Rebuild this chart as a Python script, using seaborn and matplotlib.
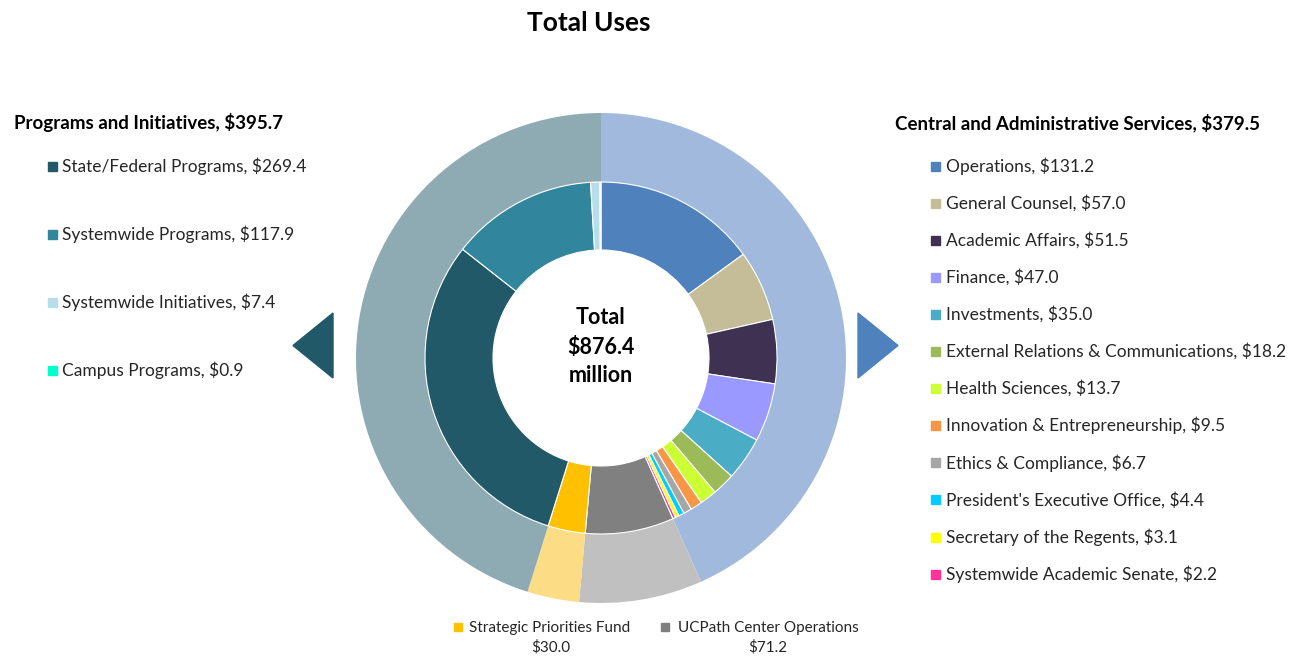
import matplotlib
matplotlib.use("Agg")
import matplotlib.pyplot as plt
import seaborn as sns
from matplotlib.patches import Rectangle, Polygon

sns.set_theme(style="white")
plt.rcParams['font.family'] = ['Lato', 'DejaVu Sans']

# ---- data ----
outer_labels = ["Central and Administrative Services", "UCPath Center Operations",
                "Strategic Priorities Fund", "Programs and Initiatives"]
outer_values = [379.5, 71.2, 30.0, 395.7]
outer_colors = ["#a1b9dc", "#c0c0c0", "#fcdc85", "#8eaab3"]

central_labels = ["Operations", "General Counsel", "Academic Affairs", "Finance", "Investments",
                  "External Relations & Communications", "Health Sciences",
                  "Innovation & Entrepreneurship", "Ethics & Compliance",
                  "President's Executive Office", "Secretary of the Regents",
                  "Systemwide Academic Senate"]
central_values = [131.2, 57.0, 51.5, 47.0, 35.0, 18.2, 13.7, 9.5, 6.7, 4.4, 3.1, 2.2]
central_colors = ["#4f81bd", "#c4bd97", "#3f3151", "#9999ff", "#4bacc6", "#9bbb59",
                  "#ccff33", "#f79646", "#a6a6a6", "#00ccff", "#ffff00", "#ff3399"]

mid_labels = ["UCPath Center Operations", "Strategic Priorities Fund"]
mid_values = [71.2, 30.0]
mid_colors = ["#808080", "#ffc000"]

prog_labels = ["State/Federal Programs", "Systemwide Programs", "Systemwide Initiatives",
               "Campus Programs"]
prog_values = [269.4, 117.9, 7.4, 0.9]
prog_colors = ["#215968", "#31859c", "#b7dee8", "#00ffcc"]

total = 876.4
center_lines = ["Total", f"${total:.1f}", "million"]

# ---- figure ----
W, H = 1298, 656
fig = plt.figure(figsize=(W / 100, H / 100), dpi=100)
fig.patch.set_facecolor("white")

cx, cy, R = 601, 358, 245
ax = fig.add_axes([(cx - R) / W, (H - cy - R) / H, 2 * R / W, 2 * R / H])
ax.set_aspect("equal")
ax.axis("off")

r_mid = 176 / R
r_hole = 108 / R

ax.pie(outer_values, radius=1.0, colors=outer_colors, startangle=90, counterclock=False,
       wedgeprops=dict(width=1.0 - r_mid, linewidth=0))
inner_values = central_values + mid_values + prog_values
inner_colors = central_colors + mid_colors + prog_colors
ax.pie(inner_values, radius=r_mid, colors=inner_colors, startangle=90, counterclock=False,
       wedgeprops=dict(width=r_mid - r_hole, edgecolor="white", linewidth=0.8))
ax.set_xlim(-1, 1)
ax.set_ylim(-1, 1)

# overlay in pixel coordinates
ov = fig.add_axes([0, 0, 1, 1])
ov.set_xlim(0, W)
ov.set_ylim(H, 0)
ov.axis("off")
ov.patch.set_alpha(0)

txt_color = "#262626"
fs = 12.5

for i, line in enumerate(center_lines):
    ov.text(cx, 318 + i * 29, line, ha="center", va="center", fontsize=15.5,
            fontweight="bold", color="black")

ov.text(589, 23, "Total Uses", ha="center", va="center", fontsize=19, fontweight="bold", color="black")

# left legend
ov.text(14, 123, f"{outer_labels[3]}, ${outer_values[3]:.1f}", ha="left", va="center",
        fontsize=13.5, fontweight="bold", color="black")
for i, (lab, val, col) in enumerate(zip(prog_labels, prog_values, prog_colors)):
    y = 166 + i * 68
    ov.add_patch(Rectangle((48, y - 4.5), 9, 9, color=col))
    ov.text(62, y, f"{lab}, ${val:.1f}", ha="left", va="center", fontsize=fs, color=txt_color)

# right legend
ov.text(895, 123, f"{outer_labels[0]}, ${outer_values[0]:.1f}", ha="left", va="center",
        fontsize=13.5, fontweight="bold", color="black")
for i, (lab, val, col) in enumerate(zip(central_labels, central_values, central_colors)):
    y = 166 + i * 37.1
    ov.add_patch(Rectangle((931, y - 4.5), 9, 9, color=col))
    ov.text(946, y, f"{lab}, ${val:.1f}", ha="left", va="center", fontsize=fs, color=txt_color)

# bottom labels
bottom = [(454, 469, 551, mid_labels[1], mid_values[1], mid_colors[1]),
          (661, 678, 768, mid_labels[0], mid_values[0], mid_colors[0])]
for mx, tx, vx, lab, val, col in bottom:
    ov.add_patch(Rectangle((mx, 623), 8, 8, color=col))
    ov.text(tx, 628, lab, ha="left", va="center", fontsize=11, color=txt_color)
    ov.text(vx, 647, f"${val:.1f}", ha="center", va="center", fontsize=11, color=txt_color)

# arrows
ov.add_patch(Polygon([(333, 313), (333, 378), (293, 345.5)], closed=True, color="#215968"))
ov.add_patch(Polygon([(858, 313), (858, 378), (898, 345.5)], closed=True, color="#4f81bd"))

fig.savefig("out.png", dpi=100, facecolor="white")
